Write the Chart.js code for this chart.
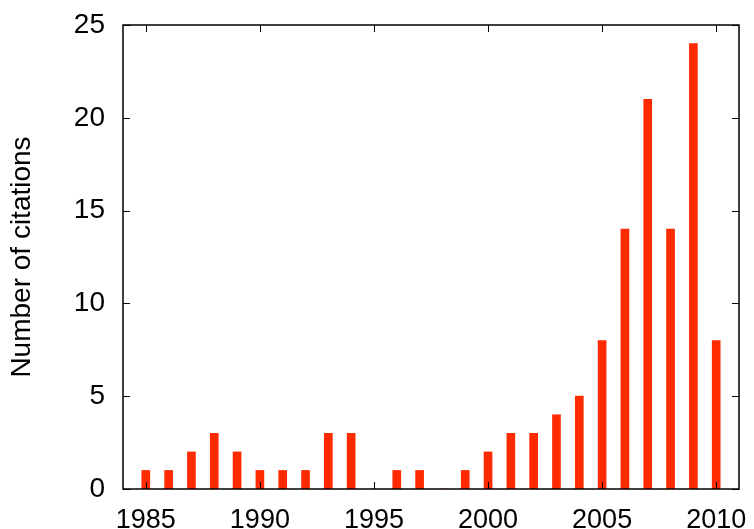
<!DOCTYPE html>
<html>
<head>
<meta charset="utf-8">
<script src="https://cdn.jsdelivr.net/npm/chart.js@4/dist/chart.umd.min.js"></script>
<style>
  html, body { margin: 0; padding: 0; background: #fff; }
  #wrap { width: 754px; height: 529px; }
</style>
</head>
<body>
<div id="wrap"><canvas id="citations"></canvas></div>
<script>
const years = [1985, 1986, 1987, 1988, 1989, 1990, 1991, 1992, 1993, 1994, 1995, 1996, 1997,
               1998, 1999, 2000, 2001, 2002, 2003, 2004, 2005, 2006, 2007, 2008, 2009, 2010];
const citations = [1, 1, 2, 3, 2, 1, 1, 1, 3, 3, 0, 1, 1,
                   0, 1, 2, 3, 3, 4, 5, 8, 14, 21, 14, 24, 8];
const xTicks = [1985, 1990, 1995, 2000, 2005, 2010];
const yTicks = [0, 5, 10, 15, 20, 25];

const FONT = "'Liberation Sans', Helvetica, Arial, sans-serif";

// gnuplot-style box: frame on all sides, short ticks pointing inward
const framePlugin = {
  id: 'frame',
  afterDraw(chart) {
    const { ctx, chartArea: a, scales: { x, y } } = chart;
    const len = 7;
    ctx.save();
    ctx.strokeStyle = '#000';
    ctx.lineWidth = 1.5;
    ctx.strokeRect(a.left, a.top, a.right - a.left, a.bottom - a.top);
    ctx.lineWidth = 1;
    ctx.beginPath();
    xTicks.forEach(v => {
      const px = Math.round(x.getPixelForValue(v)) + 0.5;
      ctx.moveTo(px, a.bottom); ctx.lineTo(px, a.bottom - len);
      ctx.moveTo(px, a.top); ctx.lineTo(px, a.top + len);
    });
    yTicks.forEach(v => {
      const py = Math.round(y.getPixelForValue(v)) + 0.5;
      ctx.moveTo(a.left, py); ctx.lineTo(a.left + len, py);
      ctx.moveTo(a.right, py); ctx.lineTo(a.right - len, py);
    });
    ctx.stroke();
    ctx.restore();
  }
};

new Chart(document.getElementById('citations'), {
  type: 'bar',
  data: {
    datasets: [{
      data: years.map((yr, i) => ({ x: yr, y: citations[i] })),
      backgroundColor: '#ff2a00',
      borderWidth: 0,
      barThickness: 8
    }]
  },
  options: {
    responsive: true,
    maintainAspectRatio: false,
    animation: false,
    layout: { padding: { top: 25, right: 15, left: 0, bottom: 0 } },
    plugins: { legend: { display: false }, tooltip: { enabled: false } },
    scales: {
      x: {
        type: 'linear',
        min: 1984,
        max: 2011,
        offset: false,
        grid: { display: false },
        border: { display: false },
        afterBuildTicks(scale) { scale.ticks = xTicks.map(v => ({ value: v })); },
        afterFit(scale) {
          scale.height = 40;
          scale.paddingLeft = 0;
          scale.paddingRight = 0;
        },
        ticks: {
          color: '#000',
          padding: 7,
          maxRotation: 0,
          font: { family: FONT, size: 27 },
          callback: v => String(v)
        }
      },
      y: {
        min: 0,
        max: 25,
        grid: { display: false },
        border: { display: false },
        afterBuildTicks(scale) { scale.ticks = yTicks.map(v => ({ value: v })); },
        afterFit(scale) {
          scale.width = 123;
          scale.paddingTop = 0;
          scale.paddingBottom = 0;
        },
        ticks: {
          color: '#000',
          padding: 10,
          font: { family: FONT, size: 28 }
        },
        title: {
          display: true,
          text: 'Number of citations',
          color: '#000',
          padding: { top: 5, bottom: 0 },
          font: { family: FONT, size: 28 }
        }
      }
    }
  },
  plugins: [framePlugin]
});
</script>
</body>
</html>
